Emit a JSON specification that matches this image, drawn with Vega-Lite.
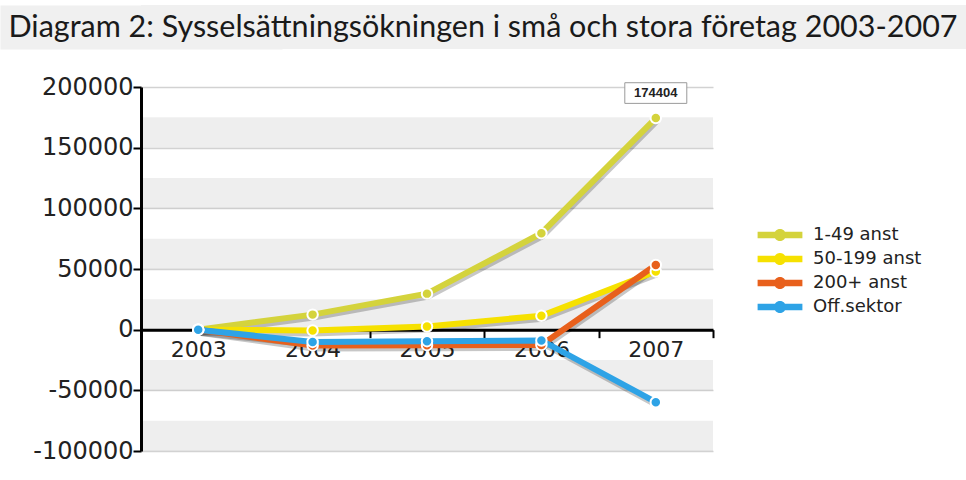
{
  "$schema": "https://vega.github.io/schema/vega-lite/v6.json",
  "padding": {"left": 0, "top": 5, "right": 0, "bottom": 0},
  "background": "white",
  "spacing": 26,
  "datasets": {
    "heading": [{"t": "Diagram 2: Sysselsättningsökningen i små och stora företag 2003-2007"}],
    "bands": [
      {"lo": 150000, "hi": 175000},
      {"lo": 100000, "hi": 125000},
      {"lo": 50000, "hi": 75000},
      {"lo": 0, "hi": 25000},
      {"lo": -50000, "hi": -25000},
      {"lo": -100000, "hi": -75000}
    ],
    "series": [
      {"series": "1-49 anst", "year": 2003, "value": 0},
      {"series": "1-49 anst", "year": 2004, "value": 12400},
      {"series": "1-49 anst", "year": 2005, "value": 29700},
      {"series": "1-49 anst", "year": 2006, "value": 79500},
      {"series": "1-49 anst", "year": 2007, "value": 174404},
      {"series": "50-199 anst", "year": 2003, "value": 0},
      {"series": "50-199 anst", "year": 2004, "value": -600},
      {"series": "50-199 anst", "year": 2005, "value": 2600},
      {"series": "50-199 anst", "year": 2006, "value": 11500},
      {"series": "50-199 anst", "year": 2007, "value": 48000},
      {"series": "200+ anst", "year": 2003, "value": 0},
      {"series": "200+ anst", "year": 2004, "value": -13000},
      {"series": "200+ anst", "year": 2005, "value": -12800},
      {"series": "200+ anst", "year": 2006, "value": -12600},
      {"series": "200+ anst", "year": 2007, "value": 53300},
      {"series": "Off.sektor", "year": 2003, "value": 0},
      {"series": "Off.sektor", "year": 2004, "value": -10100},
      {"series": "Off.sektor", "year": 2005, "value": -9500},
      {"series": "Off.sektor", "year": 2006, "value": -8900},
      {"series": "Off.sektor", "year": 2007, "value": -59800}
    ]
  },
  "vconcat": [
    {
      "width": 825,
      "height": 44,
      "view": {"fill": "#f0f0f0", "stroke": null},
      "data": {"name": "heading"},
      "layer": [
        {
          "mark": {"type": "rule", "opacity": 0},
          "encoding": {
            "y": {
              "datum": 0, "type": "quantitative",
              "axis": {"orient": "left", "title": null, "labels": false, "ticks": false, "grid": false, "domain": true, "domainColor": "#f0f0f0", "domainWidth": 282}
            }
          }
        },
        {
          "mark": {"type": "text", "font": "Lato", "fontSize": 30.5, "color": "#1a1a1a", "align": "center", "baseline": "middle", "dx": -70.5, "dy": 1},
          "encoding": {"text": {"field": "t", "type": "nominal"}}
        }
      ]
    },
    {
      "width": 572,
      "height": 364,
      "view": {"stroke": null},
      "layer": [
        {
          "data": {"name": "bands"},
          "mark": {"type": "rect", "color": "#000000", "opacity": 0.065},
          "encoding": {
            "y": {
              "field": "lo", "type": "quantitative",
              "scale": {"domain": [-100000, 200000], "nice": false, "zero": false},
              "axis": {
                "title": null,
                "values": [-100000, -75000, -50000, -25000, 0, 25000, 50000, 75000, 100000, 125000, 150000, 175000, 200000],
                "labelExpr": "datum.value % 50000 === 0 ? '' + datum.value : ''",
                "grid": true,
                "gridColor": "#d2d2d2",
                "gridWidth": 1.5,
                "domainColor": "#000000",
                "domainWidth": 3,
                "tickColor": "#000000",
                "tickWidth": 2,
                "tickSize": 8,
                "tickOpacity": {"condition": {"test": "datum.value % 50000 !== 0", "value": 0}, "value": 1},
                "labelFont": "DejaVu Sans",
                "labelFontSize": 24,
                "labelColor": "#222222",
                "labelPadding": 0,
                "minExtent": 141
              }
            },
            "y2": {"field": "hi"}
          }
        },
        {
          "data": {"name": "series"},
          "mark": {"type": "line", "strokeWidth": 6, "color": "#000000", "opacity": 0.22, "yOffset": 3, "xOffset": 1},
          "encoding": {
            "x": {"field": "year", "type": "ordinal"},
            "y": {"field": "value", "type": "quantitative"},
            "detail": {"field": "series", "type": "nominal"}
          }
        },
        {
          "data": {"name": "series"},
          "mark": {"type": "line", "strokeWidth": 6},
          "encoding": {
            "x": {
              "field": "year", "type": "ordinal",
              "scale": {"type": "band", "paddingInner": 0, "paddingOuter": 0},
              "axis": {
                "title": null,
                "offset": -121.33,
                "labelAngle": 0,
                "labelAlign": "center",
                "domainColor": "#000000",
                "domainWidth": 3,
                "tickOffset": 57.2,
                "labelOffset": -57.2,
                "tickColor": "#000000",
                "tickWidth": 2,
                "tickSize": 8,
                "labelFont": "DejaVu Sans",
                "labelFontSize": 22,
                "labelColor": "#222222",
                "labelPadding": 12,
                "grid": false
              }
            },
            "y": {"field": "value", "type": "quantitative"},
            "color": {
              "field": "series", "type": "nominal",
              "scale": {
                "domain": ["1-49 anst", "50-199 anst", "200+ anst", "Off.sektor"],
                "range": ["#d4d33c", "#f6e100", "#e8601c", "#2ea3e6"]
              },
              "legend": {
                "orient": "none",
                "legendX": 630,
                "legendY": 221,
                "title": null,
                "symbolType": "M-2.8,-0.4L2.8,-0.4L2.8,0.4L-2.8,0.4Z M0.75,0A0.75,0.75 0 1,1 -0.75,0A0.75,0.75 0 1,1 0.75,0Z",
                "symbolSize": 256,
                "symbolStrokeWidth": 0,
                "labelFont": "DejaVu Sans",
                "labelFontSize": 18,
                "labelColor": "#222222",
                "labelOffset": 24,
                "rowPadding": 6,
                "encode": {"symbols": {"update": {"fill": {"scale": "color", "field": "value"}, "fillOpacity": {"value": 1}, "opacity": {"value": 1}}}}
              }
            }
          }
        },
        {
          "data": {"name": "series"},
          "mark": {"type": "point", "filled": true, "size": 110, "stroke": "#ffffff", "strokeWidth": 2, "opacity": 1},
          "encoding": {
            "x": {"field": "year", "type": "ordinal"},
            "y": {"field": "value", "type": "quantitative"},
            "fill": {"field": "series", "type": "nominal", "scale": {"domain": ["1-49 anst", "50-199 anst", "200+ anst", "Off.sektor"], "range": ["#d4d33c", "#f6e100", "#e8601c", "#2ea3e6"]}, "legend": null}
          }
        },
        {
          "data": {"name": "series"},
          "transform": [{"filter": "datum.series === '1-49 anst' && datum.year === 2007"}],
          "mark": {"type": "point", "shape": "M-3,-1H3V1H-3Z", "size": 427, "filled": true, "fill": "#ffffff", "stroke": "#9a9a9a", "strokeWidth": 1, "opacity": 1, "yOffset": -25},
          "encoding": {
            "x": {"field": "year", "type": "ordinal"},
            "y": {"field": "value", "type": "quantitative"}
          }
        },
        {
          "data": {"name": "series"},
          "transform": [{"filter": "datum.series === '1-49 anst' && datum.year === 2007"}],
          "mark": {"type": "text", "font": "Liberation Sans", "fontWeight": "bold", "fontSize": 13, "color": "#222222", "yOffset": -25, "baseline": "middle"},
          "encoding": {
            "x": {"field": "year", "type": "ordinal"},
            "y": {"field": "value", "type": "quantitative"},
            "text": {"field": "value", "type": "quantitative", "format": "d"}
          }
        }
      ]
    }
  ]
}
